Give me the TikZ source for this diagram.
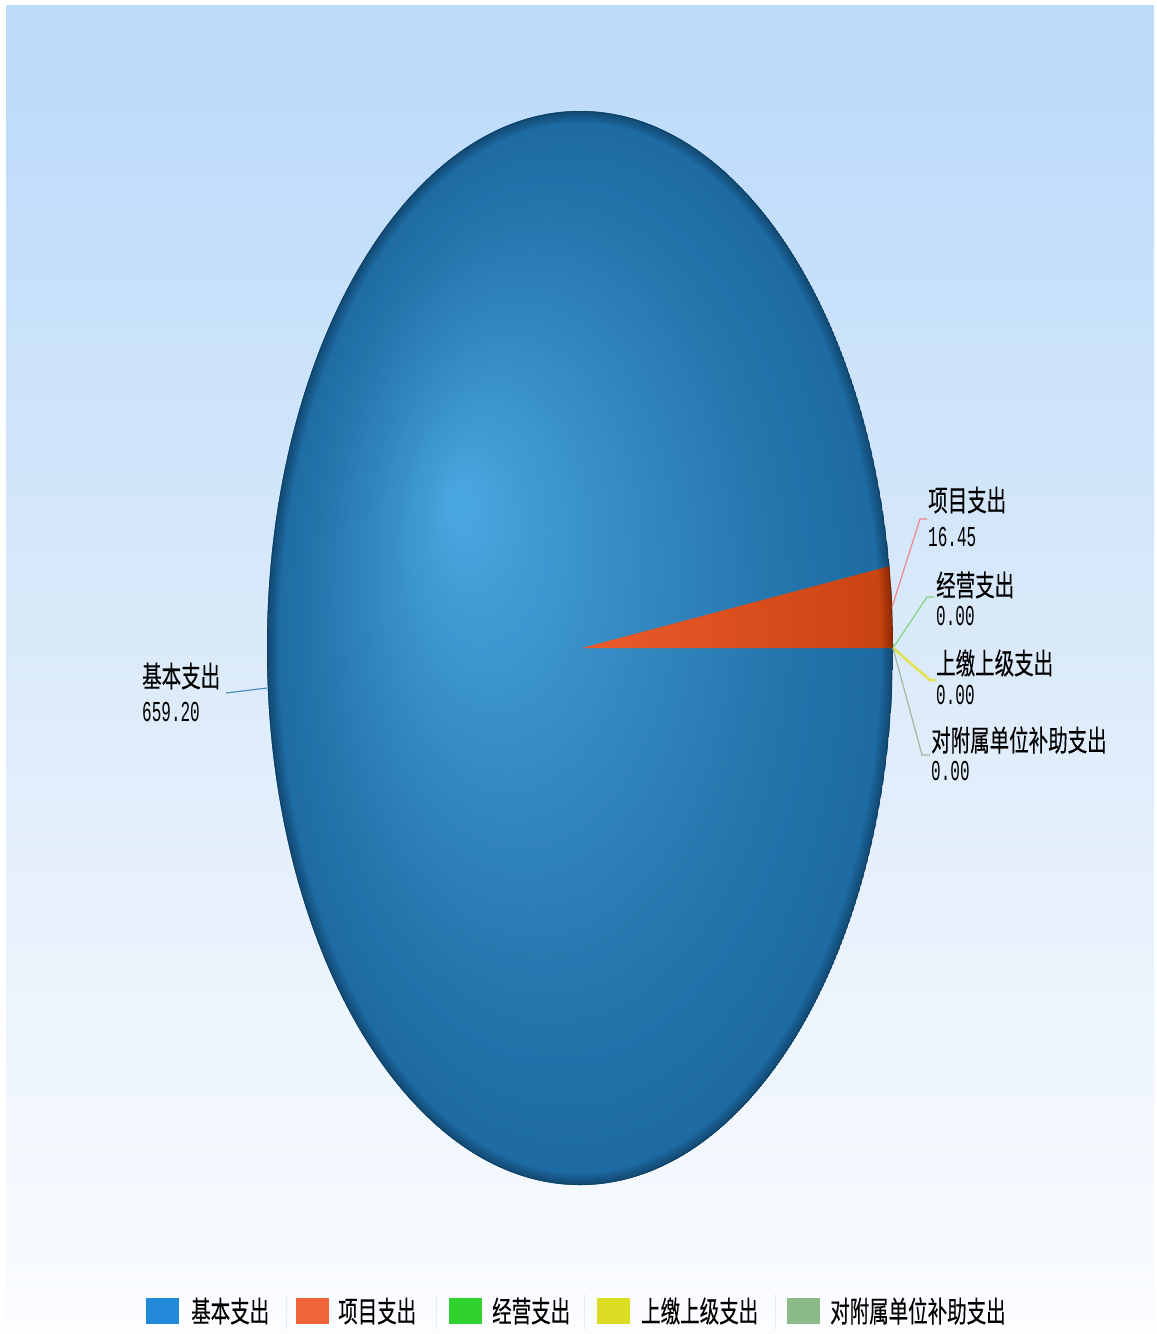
\documentclass[tikz,border=0pt]{standalone}
\usepackage{fontspec}
\newfontfamily\cjk{Noto Sans CJK SC}[FakeBold=0.3]
\newfontfamily\monofnt{Liberation Mono}
\definecolor{bgtop}{HTML}{BDDBFA}
\definecolor{bz}{HTML}{4BA9E1}
\definecolor{bc}{HTML}{1E6BA3}
\definecolor{oa}{HTML}{EC5A2C}
\definecolor{ob}{HTML}{C8430F}
\definecolor{lgblue}{HTML}{2189D8}
\definecolor{lgorange}{HTML}{F0643A}
\definecolor{lggreen}{HTML}{2FD22F}
\definecolor{lgyellow}{HTML}{DCDC22}
\definecolor{lggray}{HTML}{8DBB88}
\definecolor{ldblue}{HTML}{4A8EC0}
\definecolor{ldred}{HTML}{F08484}
\definecolor{ldgreen}{HTML}{7ED67E}
\definecolor{ldyellow}{HTML}{E2E24C}
\definecolor{ldgray}{HTML}{A2BA9C}
\definecolor{sepc}{HTML}{E4ECF5}
\definecolor{g1}{HTML}{FCFDFF}
\definecolor{g2}{HTML}{F5F9FE}
\definecolor{g3}{HTML}{ECF4FC}
\definecolor{g4}{HTML}{DBEAFA}
\definecolor{g5}{HTML}{C8E1FA}
\pgfdeclareverticalshading{bgsh}{100bp}{color(0bp)=(g1); color(25bp)=(g1); color(30bp)=(g2); color(37.6bp)=(g3); color(50.7bp)=(g4); color(63.9bp)=(g5); color(72bp)=(bgtop); color(100bp)=(bgtop)}
\pgfdeclarehorizontalshading{wedgesh}{100bp}{color(0bp)=(oa); color(25bp)=(oa); color(75bp)=(ob); color(100bp)=(ob)}
\tikzset{
  cjklab/.style={font=\cjk\fontsize{19.5}{20}\selectfont, yscale=1.5, anchor=west, inner sep=0pt, text=black},
  numlab/.style={font=\monofnt\fontsize{16}{16}\selectfont, yscale=1.8, anchor=west, inner sep=0pt, text=black},
  lgsq/.style={minimum width=33pt, minimum height=26pt, inner sep=0pt, draw=none},
  leader/.style={line width=1.2pt},
  sepline/.style={draw=sepc, line width=1pt}
}
\begin{document}
\begin{tikzpicture}[x=1pt,y=-1pt]
\useasboundingbox (0,0) rectangle (1157,1334);
\fill[white] (0,0) rectangle (1157,1334);
\shade[shading=bgsh] (6,5) rectangle (1154,1334);
% pie body: focal radial gradient emulated by nested ellipses
\begin{scope}
  \clip (580,648) ellipse (313 and 537);
  \fill[bc] (580,648) ellipse (313 and 537);
  \foreach \i in {0,...,79} {
    \pgfmathsetmacro\tt{1-\i/80}
    \pgfmathsetmacro\pct{100*(1-\tt)^1.3}
    \pgfmathsetmacro\cx{456+124*\tt}
    \pgfmathsetmacro\cy{500+148*\tt}
    \pgfmathsetmacro\rx{313*\tt}
    \pgfmathsetmacro\ry{537*\tt}
    \fill[bz!\pct!bc] (\cx,\cy) ellipse ({\rx} and {\ry});
  }
  \shade[shading=wedgesh] (582,648) -- (893,648) arc[start angle=0, end angle=-8.76, x radius=313, y radius=537] -- cycle;
  \foreach \w in {2,4,...,24} {
    \draw[black, opacity=0.024, line width=\w pt] (580,648) ellipse (313 and 537);
  }
  \draw[black, opacity=0.15, line width=2pt] (580,648) ellipse (313 and 537);
\end{scope}
% anchor points on the pie
\coordinate (e0) at (893,648);
\coordinate (e1) at (892,607);
\coordinate (eL) at (267,688);
% labels
\node[cjklab] (l0) at (142,676) {基本支出};
\node[numlab] (v0) at (142,712) {659.20};
\node[cjklab] (l1) at (928,500) {项目支出};
\node[numlab] (v1) at (928,537) {16.45};
\node[cjklab] (l2) at (936,585) {经营支出};
\node[numlab] (v2) at (936,616) {0.00};
\node[cjklab] (l3) at (936,663) {上缴上级支出};
\node[numlab] (v3) at (936,695) {0.00};
\node[cjklab] (l4) at (931,740) {对附属单位补助支出};
\node[numlab] (v4) at (931,771) {0.00};
% leader bends
\coordinate (k0) at (226,693);
\coordinate (k1) at (920,519);
\coordinate (t1) at (927,519);
\coordinate (k2) at (927,597);
\coordinate (t2) at (934,597);
\coordinate (k3) at (930,680);
\coordinate (t3) at (936,680);
\coordinate (k4) at (922,755);
\coordinate (t4) at (930,755);
\draw[leader, draw=ldblue] (eL) -- (k0);
\draw[leader, draw=ldred] (e1) -- (k1) -- (t1);
\draw[leader, draw=ldgreen] (e0) -- (k2) -- (t2);
\draw[leader, draw=ldyellow, line width=2.5pt] (e0) -- (k3) -- (t3);
\draw[leader, draw=ldgray] (e0) -- (k4) -- (t4);
% legend
\node[lgsq, fill=lgblue] (s0) at (162.5,1311) {};
\node[cjklab] (g0) at (191,1311) {基本支出};
\node[lgsq, fill=lgorange] (s1) at (312,1311) {};
\node[cjklab] (g1) at (338,1311) {项目支出};
\node[lgsq, fill=lggreen] (s2) at (465,1311) {};
\node[cjklab] (g2) at (492,1311) {经营支出};
\node[lgsq, fill=lgyellow] (s3) at (613.5,1311) {};
\node[cjklab] (g3) at (641,1311) {上缴上级支出};
\node[lgsq, fill=lggray] (s4) at (803.5,1311) {};
\node[cjklab] (g4) at (830,1311) {对附属单位补助支出};
\foreach \sx in {286,436,584,775} {
  \draw[sepline] (\sx,1294) -- (\sx,1330);
}
\end{tikzpicture}
\end{document}
